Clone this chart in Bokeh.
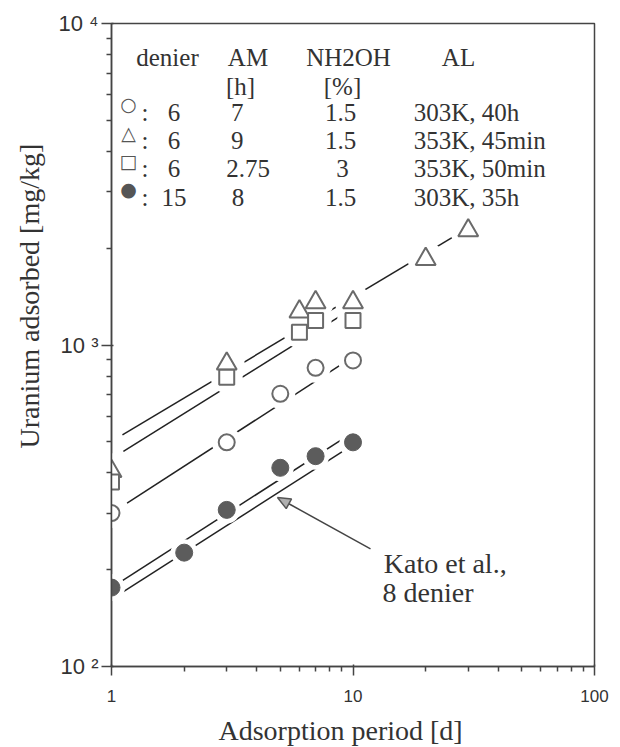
import math
from bokeh.plotting import figure
from bokeh.models import Label, FixedTicker, Title
from bokeh.embed import file_html
from bokeh.resources import INLINE

# ---------------- data ----------------
tri_x = [1, 3, 6, 7, 10, 20, 30]
tri_y = [405, 874, 1270, 1357, 1357, 1850, 2270]
sq_x = [1, 3, 6, 7, 10]
sq_y = [375, 794, 1096, 1192, 1192]
circ_x = [1, 3, 5, 7, 10]
circ_y = [300, 498, 705, 849, 895]
fill_x = [1, 2, 3, 5, 7, 10]
fill_y = [176, 226, 307, 415, 451, 498]

# fitted lines (end points)
tri_fit_x = [1.11, 30]
tri_fit_y = [525, 2312]
sq_fit_x = [1.12, 10]
sq_fit_y = [467, 1303]
circ_fit_x = [1.16, 10]
circ_fit_y = [322, 918]
fill_fit_x = [1.11, 10]
fill_fit_y = [185, 535]
kato_x = [1.056, 9.0]
kato_y = [166, 465]

x_ticks = [1, 10, 100]
x_minor = [2, 3, 4, 5, 6, 7, 8, 9, 20, 30, 40, 50, 60, 70, 80, 90]
x_tick_labels = ["1", "10", "100"]
y_ticks = [100, 1000, 10000]
y_minor = [200, 300, 400, 500, 600, 700, 800, 900,
           2000, 3000, 4000, 5000, 6000, 7000, 8000, 9000]
y_tick_labels = ["10 \u00b2", "10 \u00b3", "10 \u2074"]

leg_header = ["denier", "AM", "NH2OH", "AL"]
leg_sub = ["[h]", "[%]"]
leg_symbols = ["\u25cb", "\u25b3", "\u25a1", "\u25cf"]
leg_denier = ["6", "6", "6", "15"]
leg_am = ["7", "9", "2.75", "8"]
leg_nh2oh = ["1.5", "1.5", "3", "1.5"]
leg_al = ["303K, 40h", "353K, 45min", "353K, 50min", "303K, 35h"]

x_title = "Adsorption period [d]"
y_title = "Uranium adsorbed [mg/kg]"
note_lines = ["Kato et al.,", "8 denier"]

# ---------------- layout ----------------
FL, FT, FW, FH = 111, 23, 483, 643
INK = "#333333"
MK = "#6a6a6a"
AXC = "#444444"
SERIF = "Liberation Serif"
SANS = "Liberation Sans"


def sx(px):
    return px - FL


def sy(py):
    return FT + FH - py


def px_to_x(px):   # page pixel -> value on the log x axis (1..100)
    return 10 ** (2.0 * (px - FL) / FW)


def py_to_y(py):   # page pixel -> value on the log y axis (100..10000)
    return 10 ** (2.0 + 2.0 * (FT + FH - py) / FH)


p = figure(frame_width=FW, frame_height=FH,
           min_border_left=FL, min_border_right=620 - FL - FW,
           min_border_top=FT, min_border_bottom=747 - FT - FH,
           x_axis_type="log", y_axis_type="log",
           x_range=(1, 100), y_range=(100, 10000),
           output_backend="svg", toolbar_location=None)
p.grid.visible = False
p.outline_line_color = AXC
p.outline_line_width = 1.5
p.border_fill_color = None

p.xaxis.ticker = FixedTicker(ticks=x_ticks, minor_ticks=x_minor)
p.yaxis.ticker = FixedTicker(ticks=y_ticks, minor_ticks=y_minor)
p.xaxis.major_label_overrides = dict(zip(x_ticks, x_tick_labels))
p.yaxis.major_label_overrides = dict(zip(y_ticks, y_tick_labels))
for ax, tick_out, fsize, stand in ((p.xaxis[0], 9, "17px", 14),
                                   (p.yaxis[0], 10, "22px", 3)):
    ax.axis_line_color = AXC
    ax.axis_line_width = 1.5
    ax.major_tick_line_color = AXC
    ax.minor_tick_line_color = AXC
    ax.major_tick_line_width = 1.5
    ax.minor_tick_line_width = 1.5
    ax.major_tick_out = tick_out
    ax.minor_tick_out = 5
    ax.major_label_text_font = SANS
    ax.major_label_text_color = INK
    ax.major_label_text_font_size = fsize
    ax.major_label_standoff = stand

# axis titles as panel titles, so that they can sit off centre
p.add_layout(Title(text=x_title, align="left", offset=107,
                   text_font=SERIF, text_font_size="28px",
                   text_font_style="normal", text_color=INK,
                   standoff=16), "below")
p.add_layout(Title(text=y_title, align="left", offset=218,
                   text_font=SERIF, text_font_size="28px",
                   text_font_style="normal", text_color=INK,
                   standoff=22), "left")

# ---------------- lines ----------------
for fx, fy in [(tri_fit_x, tri_fit_y), (sq_fit_x, sq_fit_y),
               (circ_fit_x, circ_fit_y), (fill_fit_x, fill_fit_y),
               (kato_x, kato_y)]:
    p.line(fx, fy, line_color="#222222", line_width=1.5)

# white halos make the gaps of the lines round the markers
for hx, hy, hs in [(tri_x, tri_y, 36), (sq_x, sq_y, 32),
                   (circ_x, circ_y, 30), (fill_x, fill_y, 27)]:
    p.scatter(hx, hy, marker="circle", size=hs, fill_color="white",
              line_color=None)

# ---------------- markers ----------------
p.scatter(tri_x, tri_y, marker="triangle", size=20, fill_color="white",
          line_color=MK, line_width=2)
p.scatter(sq_x, sq_y, marker="square", size=15, fill_color="white",
          line_color=MK, line_width=2)
p.scatter(circ_x, circ_y, marker="circle", size=16, fill_color="white",
          line_color=MK, line_width=2)
p.scatter(fill_x, fill_y, marker="circle", size=17, fill_color="#5c5c5c",
          line_color="#5c5c5c", line_width=1)


def label(px, py, text, size="25px", align="left", baseline="alphabetic",
          font=SERIF, angle=0, color=INK):
    p.add_layout(Label(x=sx(px), y=sy(py), x_units="screen", y_units="screen",
                       text=text, text_font=font, text_font_size=size,
                       text_color=color, text_align=align,
                       text_baseline=baseline, angle=angle))


# ---------------- legend table ----------------
HEAD_Y = 56.7
SUB_Y = 86
ROW_Y = [111.7, 140, 168.3, 196.7]
label(167, HEAD_Y, leg_header[0], align="center")
label(247.5, HEAD_Y, leg_header[1], align="center")
label(348, HEAD_Y, leg_header[2], align="center")
label(458, HEAD_Y, leg_header[3], align="center")
label(240, SUB_Y, leg_sub[0], align="center")
label(342, SUB_Y, leg_sub[1], align="center")
AM_X = [236.7, 236.7, 247.5, 237.5]
NH_X = [340, 340, 342, 340]
for i, ry in enumerate(ROW_Y):
    label(128, ry - 8, leg_symbols[i], size="19px", align="center",
          baseline="middle", font="DejaVu Sans", color="#555555")
    label(141, ry, ":")
    label(173.5, ry, leg_denier[i], align="center")
    label(AM_X[i], ry, leg_am[i], align="center")
    label(NH_X[i], ry, leg_nh2oh[i], align="center")
    label(413.3, ry, leg_al[i])

# ---------------- annotation: text and arrow ----------------
label(383.3, 563.3, note_lines[0], size="28px")
label(382, 591.7, note_lines[1], size="28px")

TAIL = (370.0, 548.3)
TIP = (277.0, 497.0)
HEAD_LEN, HEAD_HALF = 13.0, 5.5
ux, uy = TIP[0] - TAIL[0], TIP[1] - TAIL[1]
un = math.hypot(ux, uy)
ux, uy = ux / un, uy / un
base = (TIP[0] - HEAD_LEN * ux, TIP[1] - HEAD_LEN * uy)
nx, ny = -uy, ux
head_px = [TIP[0], base[0] + HEAD_HALF * nx, base[0] - HEAD_HALF * nx]
head_py = [TIP[1], base[1] + HEAD_HALF * ny, base[1] - HEAD_HALF * ny]
p.segment(x0=[px_to_x(TAIL[0])], y0=[py_to_y(TAIL[1])],
          x1=[px_to_x(base[0])], y1=[py_to_y(base[1])],
          line_color=AXC, line_width=1.5)
p.patch([px_to_x(v) for v in head_px], [py_to_y(v) for v in head_py],
        fill_color="#b0b0b0", line_color="#555555", line_width=1.5)

open("out.html", "w").write(file_html(p, INLINE))
